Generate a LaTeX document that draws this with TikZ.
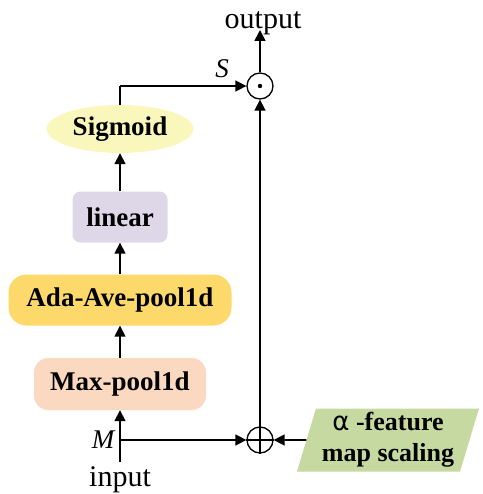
\documentclass[tikz,border=0pt]{standalone}
\usepackage{fontspec}
\setmainfont{Liberation Serif}
\newfontfamily\symfont{DejaVu Sans}
\usetikzlibrary{shapes.geometric,arrows.meta}
\definecolor{sigc}{HTML}{FAF7BC}
\definecolor{linc}{HTML}{DED7E8}
\definecolor{adac}{HTML}{FDD96B}
\definecolor{maxc}{HTML}{FAD9C0}
\definecolor{alpc}{HTML}{C6D9A1}
\begin{document}
\begin{tikzpicture}[x=1pt,y=-1pt,
  blk/.style={font=\fontsize{27}{30}\selectfont\bfseries, inner sep=0pt, align=center},
  lbl/.style={font=\fontsize{30}{32}\selectfont, inner sep=0pt},
  ital/.style={font=\fontsize{27}{28}\selectfont\itshape, inner sep=0pt},
  conn/.style={line width=1.6pt, -{Triangle[length=11pt,width=11pt]}},
  plain/.style={line width=1.6pt},
  opc/.style={circle, draw, line width=1.3pt, minimum size=26pt, inner sep=0pt}]
\useasboundingbox (0,0) rectangle (482,494);
\node[blk, ellipse, fill=sigc, minimum width=147pt, minimum height=48pt] (sig) at (120,129) {Sigmoid};
\node[blk, rectangle, rounded corners=8pt, fill=linc, minimum width=95pt, minimum height=51pt] (lin) at (120,217) {linear};
\node[blk, rectangle, rounded corners=18pt, fill=adac, minimum width=223pt, minimum height=51pt] (ada) at (120,300) {Ada-Ave-pool1d};
\node[blk, rectangle, rounded corners=14pt, fill=maxc, minimum width=172pt, minimum height=52pt] (max) at (120,384) {Max-pool1d};
\node[opc] (mul) at (260,86) {};
\fill (mul.center) circle (2.2pt);
\node[opc] (add) at (260,440) {};
\draw[line width=1.3pt] (add.north) -- (add.south) (add.west) -- (add.east);
\node[blk, trapezium, trapezium stretches body, trapezium left angle=71, trapezium right angle=109, fill=alpc, minimum width=182pt, minimum height=63pt, font=\fontsize{26}{31}\selectfont\bfseries] (alp) at (388,440) {{\symfont\mdseries α} -feature\\map scaling};
\node[lbl, anchor=base] (out) at (263,29) {output};
\node[lbl, anchor=base] (inp) at (120,486) {input};
\coordinate (mj) at (120,440);
\coordinate (ib) at (120,462);
\coordinate (st) at (120,86);
\coordinate (ot) at (260,30);
\node[ital] (M) at (103,440) {M};
\node[ital] (S) at (222,69) {S};
\draw[conn] (ib) -- (max.south);
\draw[conn] (max.north) -- (ada.south);
\draw[conn] (ada.north) -- (lin.south);
\draw[conn] (lin.north) -- (sig.south);
\draw[plain] (sig.north) -- (st);
\draw[conn] (st) -- (mul.west);
\draw[conn] (mj) -- (add.west);
\draw[conn] (alp.west) -- (add.east);
\draw[conn] (add.north) -- (mul.south);
\draw[conn] (mul.north) -- (ot);
\end{tikzpicture}
\end{document}
